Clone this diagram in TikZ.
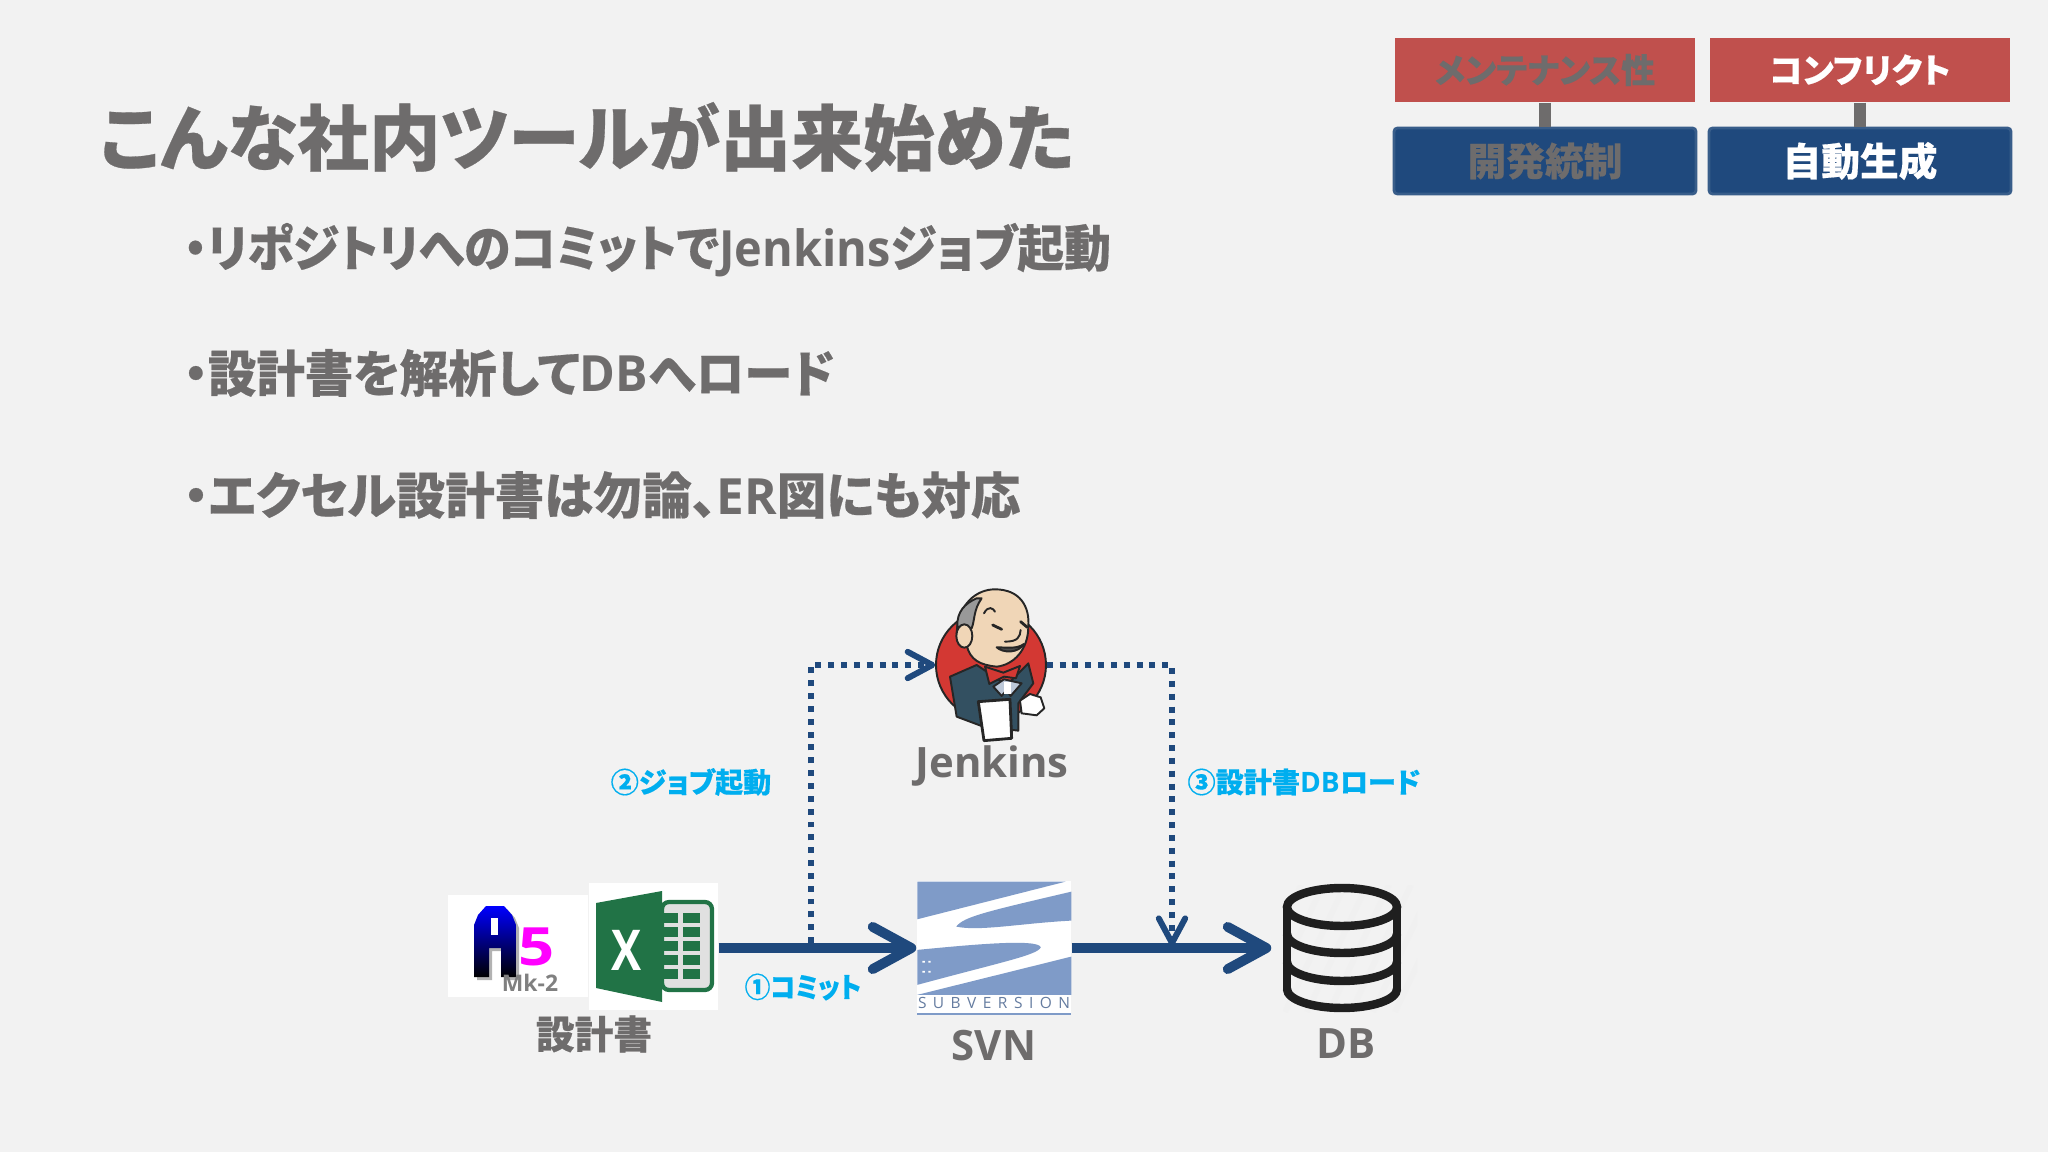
\documentclass[tikz,border=0pt]{standalone}
\usepackage{fontspec}
\usetikzlibrary{arrows.meta}
\setmainfont{Noto Sans CJK JP}[RawFeature=+palt, BoldFeatures={FakeBold=0.4}]
\newfontfamily\lat{Open Sans}

\definecolor{pagebg}{HTML}{F2F2F2}
\definecolor{txtgray}{HTML}{6E6C6C}
\definecolor{flowblue}{HTML}{1F497D}
\definecolor{boxred}{HTML}{C0504D}
\definecolor{boxedge}{HTML}{385D8A}
\definecolor{labelblue}{HTML}{00AEEF}
\definecolor{svnblue}{HTML}{7F9BC8}
\definecolor{xlgreen}{HTML}{217346}
\definecolor{butlerred}{HTML}{D33833}
\definecolor{butlernavy}{HTML}{335061}
\definecolor{butlerskin}{HTML}{F0D6B7}
\definecolor{a5pink}{HTML}{FF00FF}

\def\pxu{0.01cm}
\tikzset{
  x=0.01cm, y=-0.01cm,
  titletext/.style={anchor=west, inner sep=0, text=txtgray, font=\fontsize{20.35pt}{24pt}\selectfont\bfseries},
  bullettext/.style={anchor=west, inner sep=0, text=txtgray, font=\fontsize{14.2pt}{18pt}\selectfont\bfseries},
  boxtext/.style={inner sep=0, text=txtgray, font=\fontsize{9.65pt}{13pt}\selectfont\bfseries},
  redbox/.style={boxtext, fill=boxred, minimum width=300*\pxu, minimum height=64*\pxu},
  bluebox/.style={boxtext, fill=flowblue, draw=boxedge, line width=0.8pt, rounded corners=1pt, minimum width=302*\pxu, minimum height=66*\pxu},
  linkbar/.style={draw=txtgray, line width=3.2pt},
  steplabel/.style={inner sep=0, text=labelblue, font=\fontsize{8pt}{10pt}\selectfont\bfseries},
  toollabel/.style={inner sep=0, text=txtgray, font=\fontsize{11pt}{14pt}\selectfont\bfseries},
  latinlabel/.style={toollabel, font=\fontsize{11.9pt}{14pt}\selectfont\bfseries\lat},
  imgbox/.style={inner sep=0, fill=white},
  flowline/.style={draw=flowblue, line width=2.8pt, -{Straight Barb[length=11pt,width=12pt,round]}},
  dotline/.style={draw=flowblue, line width=1.7pt, dash pattern=on 1.7pt off 1.95pt, -{Straight Barb[length=7pt,width=7.5pt,round]}},
  inkline/.style={draw=black!85, line width=0.55pt, line cap=round, line join=round},
  dbline/.style={draw=black!88, line width=2.4pt, line cap=round},
}

\begin{document}
\begin{tikzpicture}
% page
\useasboundingbox (0,0) rectangle (2048,1152);
\fill[pagebg] (0,0) rectangle (2048,1152);

% title and bullets
\node[titletext] (title) at (99,137) {こんな社内ツールが出来始めた};
\node[bullettext] (line1) at (183,250) {\scalebox{0.938}[1]{・リポジトリへのコミットで{\lat Jenkins}ジョブ起動}};
\node[bullettext] (line2) at (183,373) {\scalebox{0.97}[1]{・設計書を解析して{\lat DB}へロード}};
\node[bullettext] (line3) at (183,495) {\scalebox{0.99}[1]{・エクセル設計書は勿論、{\lat ER}図にも対応}};

% boxes top right
\node[redbox] (mente) at (1545,70) {\raisebox{-0.8pt}{メンテナンス性}};
\node[redbox, text=white] (conflict) at (1860,70) {\raisebox{-0.8pt}{コンフリクト}};
\node[bluebox] (kaihatsu) at (1545,161) {\fontsize{11pt}{13pt}\selectfont 開発統制};
\node[bluebox, text=white] (jidou) at (1860,161) {\fontsize{11pt}{13pt}\selectfont 自動生成};
\draw[linkbar] (mente.south) -- (kaihatsu.north);
\draw[linkbar] (conflict.south) -- (jidou.north);

% image nodes
\node[imgbox, minimum width=140*\pxu, minimum height=102*\pxu] (a5) at (518,946) {};
\node[imgbox, minimum width=129*\pxu, minimum height=127*\pxu] (excel) at (653.5,946.5) {};
\node[imgbox, minimum width=154*\pxu, minimum height=134*\pxu] (svn) at (994,948) {};
\node[inner sep=0, minimum width=140*\pxu, minimum height=128*\pxu] (db) at (1342,948) {};
\node[inner sep=0, minimum width=110*\pxu, minimum height=100*\pxu] (jenkins) at (991,665) {};
\coordinate (jobstart) at (811,943);
\coordinate (dbdrop) at (1172,946);

% connectors
\draw[dotline] (jobstart) |- (jenkins.west);
\draw[dotline] (jenkins.east) -| (dbdrop);
\draw[flowline] (excel.east |- svn.west) -- (svn.west);
\draw[flowline] (svn.east) -- (db.west);

% labels
\node[steplabel] (commit) at (803,987) {\scalebox{0.91}[1]{①コミット}};
\node[steplabel] (joblabel) at (691,782) {②ジョブ起動};
\node[steplabel] (loadlabel) at (1304,782) {③設計書{\lat DB}ロード};
\node[toollabel] (docname) at (594,1034) {設計書};
\node[latinlabel] (jenkinsname) at (992,766) {Jenkins};
\node[latinlabel] (svnname) at (994,1046) {SVN};
\node[latinlabel] (dbname) at (1346,1044) {DB};

% A5 icon
\fill[gray!60] (477,980) -- (477,928) -- (481,918) -- (489,909) -- (507,909) -- (515,918) -- (519,928) -- (519,980) -- (504,980) -- (504,951) -- (492,951) -- (492,980) -- cycle;
\shade[top color=blue, bottom color=black] (474,977) -- (474,925) -- (478,915) -- (486,906) -- (504,906) -- (512,915) -- (516,925) -- (516,977) -- (501,977) -- (501,948) -- (489,948) -- (489,977) -- cycle;
\fill[white] (491,918) rectangle (498,935);
\node[inner sep=0, text=a5pink, font=\fontsize{15pt}{15pt}\selectfont\bfseries\lat] (five) at (537,947) {\scalebox{1.2}[1]{5}};
\node[inner sep=0, text=gray, font=\fontsize{6.5pt}{7pt}\selectfont\bfseries\lat] (mk) at (530,983) {Mk-2};

% Excel icon
\fill[white!88!black, draw=xlgreen, line width=1.2pt, rounded corners=2pt] (662,902) rectangle (712,990);
\foreach \row in {0,...,4} {
  \fill[xlgreen] (664,913+14*\row) rectangle (678,923+14*\row);
  \fill[xlgreen] (683,913+14*\row) rectangle (700,923+14*\row);
}
\fill[xlgreen] (596,903) -- (662,891) -- (662,1002) -- (596,988) -- cycle;
\node[inner sep=0, text=white, font=\fontsize{16pt}{16pt}\selectfont\bfseries\lat] (xmark) at (627,950) {\scalebox{0.8}[1]{X}};

% Subversion logo
\begin{scope}[shift={(900,860)}, xscale=0.345, yscale=0.333]
\fill[svnblue] (50,65) -- (480,65) -- (50,178) -- cycle;
\fill[svnblue] (163,200) .. controls (185,170) and (250,155) .. (497,95) -- (497,182) .. controls (350,190) and (230,215) .. (163,200) -- cycle;
\fill[svnblue] (50,270) .. controls (200,255) and (400,235) .. (408,262) .. controls (400,285) and (300,305) .. (50,375) -- cycle;
\fill[svnblue] (50,405) -- (497,290) -- (497,405) -- cycle;
\fill[white] (65,303) rectangle (72,308) (82,303) rectangle (89,308) (65,333) rectangle (72,338) (82,333) rectangle (89,338);
\fill[svnblue] (50,458) rectangle (497,464);
\end{scope}
\node[inner sep=0, text width=152*\pxu, text=svnblue!80!black, font=\fontsize{4.4pt}{5pt}\selectfont\lat] (svntext) at (994,1003) {S\hfill U\hfill B\hfill V\hfill E\hfill R\hfill S\hfill I\hfill O\hfill N};

% database icon
\begin{scope}
\clip (1283,885) rectangle (1417,1012);
\foreach \k in {-3,...,5} {
  \draw[black!6, line width=1.6pt] (1285+22*\k,1012) -- (1345+22*\k,885);
}
\end{scope}
\draw[dbline] (1342,907) ellipse (55 and 19);
\draw[dbline] (1287,907) -- (1287,989);
\draw[dbline] (1397,907) -- (1397,989);
\draw[dbline] (1287,934) arc[start angle=180, end angle=360, x radius=55, y radius=-19];
\draw[dbline] (1287,962) arc[start angle=180, end angle=360, x radius=55, y radius=-19];
\draw[dbline] (1287,989) arc[start angle=180, end angle=360, x radius=55, y radius=-19];

% Jenkins butler
\begin{scope}[shift={(780,570)}, scale=0.3333]
\filldraw[fill=butlerred, inkline] (633,285) circle (165);
\filldraw[fill=butlernavy, inkline] (510,320) -- (590,285) -- (680,345) -- (745,280) -- (760,340) -- (715,400) -- (715,482) -- (610,470) -- (530,440) -- cycle;
\filldraw[fill=flowblue!30, inkline] (640,350) -- (672,328) -- (725,340) -- (692,378) -- (680,360) -- (665,378) -- cycle;
\fill[white] (672,335) rectangle (692,372);
\filldraw[fill=butlerskin, inkline] (530,190) .. controls (535,100) and (590,58) .. (645,58) .. controls (720,58) and (750,110) .. (745,170) .. controls (745,240) and (700,285) .. (650,290) .. controls (600,285) and (570,270) .. (560,225) -- cycle;
\filldraw[fill=gray!80, inkline] (590,85) .. controls (555,100) and (530,125) .. (532,170) -- (575,175) .. controls (585,150) and (580,120) .. (605,85) -- cycle;
\filldraw[fill=butlerskin, inkline] (553,198) ellipse (24 and 35);
\draw[inkline, line width=0.8pt] (638,165) -- (665,178) (722,155) -- (742,172);
\draw[inkline] (612,130) .. controls (625,105) and (640,115) .. (645,125);
\draw[inkline] (722,180) .. controls (720,200) and (715,215) .. (675,215);
\filldraw[fill=black!70, inkline] (650,232) .. controls (680,232) and (710,238) .. (732,222) .. controls (715,250) and (670,250) .. (650,232) -- cycle;
\filldraw[fill=butlerred, inkline] (615,290) -- (670,308) -- (720,288) -- (708,325) -- (672,320) -- (628,342) -- cycle;
\filldraw[fill=white, inkline, line width=0.8pt] (595,395) -- (690,388) -- (695,505) -- (612,512) -- cycle;
\filldraw[fill=white, inkline] (720,392) -- (750,372) -- (782,382) -- (793,415) -- (770,436) -- (725,430) -- cycle;
\end{scope}
\end{tikzpicture}
\end{document}
